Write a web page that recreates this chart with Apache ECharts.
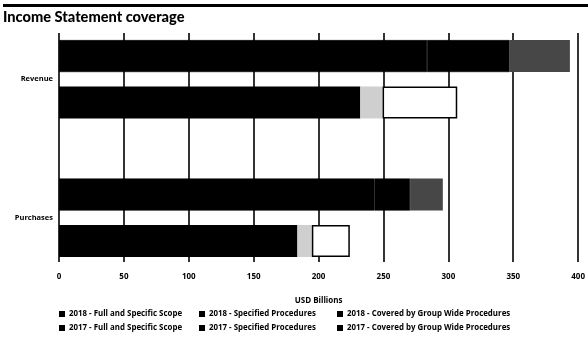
<!DOCTYPE html>
<html>
<head>
<meta charset="utf-8">
<script src="https://cdn.jsdelivr.net/npm/echarts@6/dist/echarts.min.js"></script>
<style>html,body{margin:0;padding:0;background:#fff}#c{width:588px;height:343px}</style>
</head>
<body>
<div id="c"></div>
<script>
const categories = ['Revenue', 'Purchases'];
const xTicks = [0, 50, 100, 150, 200, 250, 300, 350, 400];
const full2018 = [281, 241];
const spec2018 = [63, 27];
const group2018 = [46, 25];
const full2017 = [230, 182];
const spec2017 = [17, 11];
const group2017 = [57, 29];
const seriesNames = [
  '2018 - Full and Specific Scope', '2018 - Specified Procedures', '2018 - Covered by Group Wide Procedures',
  '2017 - Full and Specific Scope', '2017 - Specified Procedures', '2017 - Covered by Group Wide Procedures'
];

const FONT = 'Open Sans';
const chart = echarts.init(document.getElementById('c'), null, {renderer: 'canvas'});

function bar(name, data, stack, style) {
  return {
    name, type: 'bar', stack, data, xAxisIndex: 0, yAxisIndex: 0,
    barWidth: 32, barGap: '45%',
    itemStyle: style, emphasis: {disabled: true}, animation: false
  };
}

const legendCols = [59, 199, 337];
const legends = legendCols.map((x, i) => ({
  orient: 'vertical', left: x, top: 310,
  itemWidth: 6, itemHeight: 6, itemGap: 6, icon: 'rect',
  itemStyle: {color: '#000', borderWidth: 0},
  textStyle: {fontFamily: FONT, fontWeight: 'bold', fontSize: 7.9, color: '#000', padding: [0, 0, 0, -1]},
  padding: 0,
  data: [seriesNames[i], seriesNames[i + 3]]
}));

chart.setOption({
  animation: false,
  backgroundColor: '#fff',
  title: {
    text: 'Income Statement coverage', left: 3, top: 10, padding: 0,
    textStyle: {fontFamily: 'Lato', fontWeight: 900, fontSize: 14.6, color: '#000'}
  },
  graphic: [{type: 'rect', shape: {x: 3, y: 4, width: 585, height: 3}, style: {fill: '#000'}}],
  grid: [
    {left: 59, right: 5, top: 10, height: 277},
    {left: 59, right: 5, top: 33, height: 229}
  ],
  xAxis: [
    {gridIndex: 0, type: 'value', min: 0, max: 400, interval: 50, show: false},
    {gridIndex: 1, type: 'value', min: 0, max: 400, interval: 50,
     axisLine: {show: false}, axisTick: {show: false},
     splitLine: {show: true, lineStyle: {color: '#000', width: 1.6}},
     axisLabel: {margin: 11, fontFamily: FONT, fontWeight: 'bold', fontSize: 8, color: '#000',
       formatter: v => xTicks.includes(v) ? String(v) : ''},
     name: 'USD Billions', nameLocation: 'middle', nameGap: 35,
     nameTextStyle: {fontFamily: FONT, fontWeight: 'bold', fontSize: 8, color: '#000'}}
  ],
  yAxis: [
    {gridIndex: 0, type: 'category', data: categories, inverse: true,
     axisLine: {show: false}, axisTick: {show: false}, splitLine: {show: false},
     axisLabel: {margin: 6, fontFamily: FONT, fontWeight: 'bold', fontSize: 7.5, color: '#000'}},
    {gridIndex: 1, type: 'value', show: false}
  ],
  legend: legends,
  series: [
    bar(seriesNames[0], full2018, 'y2018', {color: '#000', borderColor: '#000', borderWidth: 0.6}),
    bar(seriesNames[1], spec2018, 'y2018', {color: '#000', borderColor: '#000', borderWidth: 0.6}),
    bar(seriesNames[2], group2018, 'y2018', {color: '#474747'}),
    bar(seriesNames[3], full2017, 'y2017', {color: '#000'}),
    bar(seriesNames[4], spec2017, 'y2017', {color: '#cfcfcf'}),
    bar(seriesNames[5], group2017, 'y2017', {color: '#fff', borderColor: '#000', borderWidth: 1.5})
  ]
});
</script>
</body>
</html>
